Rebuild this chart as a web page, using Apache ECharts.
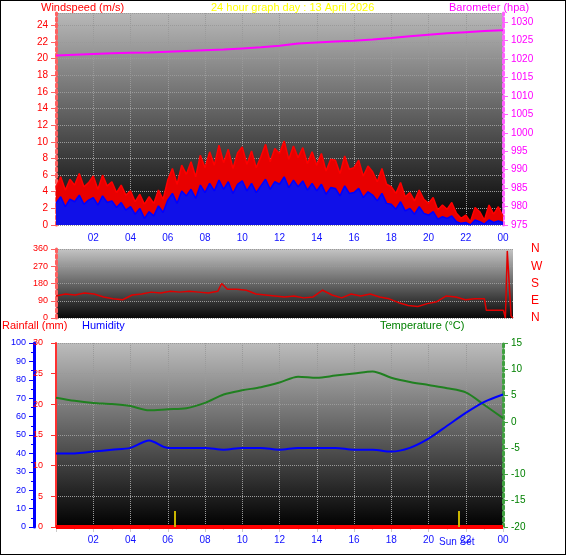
<!DOCTYPE html>
<html>
<head>
<meta charset="utf-8">
<script src="https://cdn.jsdelivr.net/npm/echarts@6/dist/echarts.min.js"></script>
<style>
  html, body { margin: 0; padding: 0; background: #fff; }
  #main { width: 566px; height: 555px; box-sizing: border-box; border: 1px solid #000; }
</style>
</head>
<body>
<div id="main"></div>
<script>
// data
var quarterHours = [];
for (var i = 0; i <= 96; i++) quarterHours.push(i / 4);

var windGust = [
  4.5,5.8,4.2,5.5, 4.8,6.2,4.6,5.1, 5.9,4.3,6.0,4.7, 5.2,3.9,4.8,3.6,
  4.1,2.8,3.7,2.5, 3.4,2.6,4.2,3.1, 5.4,6.8,4.9,7.2, 6.1,7.6,5.8,8.4,
  6.9,8.8,7.2,9.6, 7.5,9.1,6.8,8.7, 9.4,7.3,8.9,6.9, 8.2,9.7,7.6,9.2,
  8.6,10.1,7.9,9.5, 8.1,9.3,7.4,8.8, 7.2,8.6,6.5,7.9, 7.8,6.2,8.3,6.7,
  6.9,7.8,5.9,7.1, 6.4,5.2,6.8,4.9, 4.6,3.8,5.1,3.4, 3.9,2.9,4.2,3.1,
  2.6,3.3,1.8,2.4, 1.9,2.7,1.4,0.8, 1.2,0.4,2.1,1.6, 0.6,2.4,1.3,2.2, 1.0
];
var windAvg = [
  2.6,3.4,2.2,3.1, 2.8,3.6,2.5,3.0, 3.3,2.4,3.5,2.7, 2.9,2.1,2.7,1.8,
  2.2,1.3,2.0,0.8, 1.6,1.1,2.3,1.5, 3.0,3.8,2.6,4.1, 3.5,4.3,3.2,4.8,
  3.9,5.0,4.1,5.4, 4.3,5.2,3.8,4.9, 5.3,4.1,5.0,3.9, 4.7,5.5,4.3,5.2,
  4.9,5.8,4.5,5.4, 4.6,5.3,4.2,5.0, 4.1,4.9,3.7,4.5, 4.4,3.5,4.7,3.8,
  3.9,4.4,3.3,4.0, 3.6,2.9,3.8,2.6, 2.5,1.9,2.8,1.7, 2.0,1.3,2.2,1.4,
  1.2,1.6,0.7,1.0, 0.8,1.1,0.4,0.2, 0.3,0.0,0.6,0.4, 0.1,0.6,0.3,0.5, 0.3
];

var hours = [0,1,2,3,4,5,6,7,8,9,10,11,12,13,14,15,16,17,18,19,20,21,22,23,24];
var barometer = [1021,1021.2,1021.4,1021.6,1021.7,1021.8,1022,1022.2,1022.4,1022.6,1022.9,1023.2,
  1023.6,1024.2,1024.5,1024.8,1025,1025.3,1025.7,1026.2,1026.6,1027,1027.3,1027.6,1027.8];

var windDirTimes = [0,0.5,1,1.5,2,2.5,3,3.5,4,4.5,5,5.5,6,6.5,7,7.5,8,8.5,8.7,9,9.5,10,10.5,11,11.5,12,12.5,13,13.5,
  14,14.5,15,15.5,16,16.5,17,17.5,18,18.5,19,19.5,20,20.5,21,21.5,22,22.5,22.6,23.5,23.6,23.7,23.9,24];
var windDir = [115,125,120,130,125,110,100,95,120,125,135,130,140,135,140,135,130,140,180,150,150,145,125,120,115,
  110,115,105,110,145,120,105,125,115,125,110,100,80,65,60,75,85,115,110,95,100,100,40,40,0,350,10,0];

var humidity = [40,40,41,42,43,47,43,43,43,42,43,43,42,43,43,43,42,42,41,43,48,55,62,68,72];
var temperature = [4.6,4,3.6,3.4,3,2.2,2.4,2.6,3.6,5.2,6,6.6,7.5,8.6,8.4,8.8,9.2,9.6,8.4,7.6,7,6.4,5.6,3.2,0.7];
var rainfall = [0,0,0,0,0,0,0,0,0,0,0,0,0,0,0,0,0,0,0,0,0,0,0,0,0];

var sunRise = 6.4;
var sunSet = 21.6;

function zip(xs, ys) { return xs.map(function (x, i) { return [x, ys[i]]; }); }
function hourLabel(v) { if (v === 0) return ''; var h = v % 24; return (h < 10 ? '0' : '') + h; }
function bg(top, bottom) {
  return new echarts.graphic.LinearGradient(0, 0, 0, 1, [{ offset: 0, color: top }, { offset: 1, color: bottom }]);
}

var font = 'Liberation Sans';
var split = { show: true, lineStyle: { color: '#9a9a9a', type: 'dotted', width: 1 } };
var compassNames = { 0: 'N', 90: 'E', 180: 'S', 270: 'W', 360: 'N' };

var chart = echarts.init(document.getElementById('main'));
chart.setOption({
  animation: false,
  textStyle: { fontFamily: font },
  grid: [
    { left: 55, right: 62, top: 12, height: 212, show: true, borderWidth: 0, backgroundColor: bg('#b8b8b8', '#000') },
    { left: 55, right: 52, top: 248, height: 69, show: true, borderWidth: 0, backgroundColor: bg('#c4c4c4', '#080808') },
    { left: 55, right: 62, top: 342, height: 184, show: true, borderWidth: 0, backgroundColor: bg('#bcbcbc', '#000') }
  ],
  xAxis: [
    { gridIndex: 0, type: 'value', min: 0, max: 24, interval: 2,
      axisLine: { show: false }, axisTick: { show: false }, splitLine: split,
      axisLabel: { color: '#1010ff', fontSize: 10, formatter: hourLabel, margin: 8 } },
    { gridIndex: 1, type: 'value', min: 0, max: 24, interval: 2,
      axisLine: { show: false }, axisTick: { show: false }, axisLabel: { show: false }, splitLine: { show: false } },
    { gridIndex: 2, type: 'value', min: 0, max: 24, interval: 2,
      axisLine: { show: true, lineStyle: { color: '#ccc' } },
      axisTick: { show: true, lineStyle: { color: '#ccc' } },
      minorTick: { show: true, splitNumber: 2, lineStyle: { color: '#ccc' } },
      splitLine: split,
      axisLabel: { color: '#1010ff', fontSize: 10, formatter: hourLabel, margin: 8 } }
  ],
  yAxis: [
    { gridIndex: 0, type: 'value', position: 'left', min: 0, max: 25.5, interval: 2,
      axisLine: { show: true, lineStyle: { color: '#ff6060', type: 'dotted', width: 3 } },
      axisTick: { show: true, lineStyle: { color: '#ff6060' } },
      axisLabel: { color: '#ff0000', fontSize: 10, showMaxLabel: false }, splitLine: split },
    { gridIndex: 0, type: 'value', position: 'right', min: 975, max: 1032.5, interval: 5,
      axisLine: { show: true, lineStyle: { color: '#ff60ff', type: 'dotted', width: 3 } },
      axisTick: { show: true, lineStyle: { color: '#ff60ff' } },
      axisLabel: { color: '#ff00ff', fontSize: 10, showMaxLabel: false, formatter: function (v) { return String(v); } },
      splitLine: { show: false } },
    { gridIndex: 1, type: 'value', position: 'left', min: 0, max: 360, interval: 90,
      axisLine: { show: true, lineStyle: { color: '#ff6060', type: 'dotted', width: 3 } },
      axisTick: { show: true, lineStyle: { color: '#ff6060' } },
      axisLabel: { color: '#ff0000', fontSize: 9 }, splitLine: split },
    { gridIndex: 1, type: 'value', position: 'right', min: 0, max: 360, interval: 90, offset: 10,
      axisLine: { show: false }, axisTick: { show: false }, splitLine: { show: false },
      axisLabel: { color: '#ff0000', fontSize: 12, formatter: function (v) { return compassNames[v]; } } },
    { gridIndex: 2, type: 'value', position: 'left', min: 0, max: 30, interval: 5, offset: 5,
      axisLine: { show: true, lineStyle: { color: '#ff3030', width: 2 } },
      axisTick: { show: true, lineStyle: { color: '#ff3030' } },
      axisLabel: { color: '#ff0000', fontSize: 9 }, splitLine: split },
    { gridIndex: 2, type: 'value', position: 'left', min: 0, max: 100, interval: 10, offset: 22,
      axisLine: { show: true, lineStyle: { color: '#0000ff', width: 3 } },
      axisTick: { show: true, lineStyle: { color: '#0000ff' } },
      minorTick: { show: true, splitNumber: 2, lineStyle: { color: '#0000ff' } },
      axisLabel: { color: '#0000ff', fontSize: 9 }, splitLine: { show: false } },
    { gridIndex: 2, type: 'value', position: 'right', min: -20, max: 15, interval: 5,
      axisLine: { show: true, lineStyle: { color: '#40a040', type: 'dotted', width: 3 } },
      axisTick: { show: true, lineStyle: { color: '#40a040' } },
      axisLabel: { color: '#008000', fontSize: 10 }, splitLine: { show: false } }
  ],
  series: [
    { type: 'line', xAxisIndex: 0, yAxisIndex: 1, data: zip(hours, barometer), symbol: 'none',
      lineStyle: { color: '#ff00ff', width: 2 } },
    { type: 'line', xAxisIndex: 0, yAxisIndex: 0, data: zip(quarterHours, windGust), symbol: 'none',
      lineStyle: { color: '#ff0000', width: 1.5 }, areaStyle: { color: '#e80000', opacity: 1 } },
    { type: 'line', xAxisIndex: 0, yAxisIndex: 0, data: zip(quarterHours, windAvg), symbol: 'none',
      lineStyle: { color: '#0000ff', width: 1.5 }, areaStyle: { color: '#1010e8', opacity: 1 } },
    { type: 'line', xAxisIndex: 1, yAxisIndex: 2, data: zip(windDirTimes, windDir), symbol: 'none',
      lineStyle: { color: '#e00000', width: 1.5 } },
    { type: 'line', xAxisIndex: 2, yAxisIndex: 6, data: zip(hours, temperature), symbol: 'none', smooth: 0.3,
      lineStyle: { color: '#208020', width: 2 } },
    { type: 'line', xAxisIndex: 2, yAxisIndex: 5, data: zip(hours, humidity), symbol: 'none', smooth: 0.3,
      lineStyle: { color: '#0000ff', width: 2 } },
    { type: 'line', xAxisIndex: 2, yAxisIndex: 4, data: zip(hours, rainfall), symbol: 'none',
      lineStyle: { color: '#ff0000', width: 4 },
      markLine: { symbol: 'none', silent: true, label: { show: false },
        lineStyle: { color: '#c8b400', width: 2, type: 'solid' },
        data: [
          [{ coord: [sunRise, 0] }, { coord: [sunRise, 2.6] }],
          [{ coord: [sunSet, 0] }, { coord: [sunSet, 2.6] }]
        ] } }
  ],
  graphic: [
    { type: 'text', left: 40, top: 1, style: { text: 'Windspeed (m/s)', fill: '#ff0000', font: '11px Liberation Sans' } },
    { type: 'text', left: 210, top: 1, style: { text: '24 hour graph day : 13 April 2026', fill: '#ffff00', font: '11px Liberation Sans' } },
    { type: 'text', left: 448, top: 1, style: { text: 'Barometer (hpa)', fill: '#ff00ff', font: '11px Liberation Sans' } },
    { type: 'text', left: 1, top: 319, style: { text: 'Rainfall (mm)', fill: '#ff0000', font: '11px Liberation Sans' } },
    { type: 'text', left: 81, top: 319, style: { text: 'Humidity', fill: '#0000ff', font: '11px Liberation Sans' } },
    { type: 'text', left: 379, top: 319, style: { text: 'Temperature (°C)', fill: '#008000', font: '11px Liberation Sans' } },
    { type: 'text', left: 438, top: 536, style: { text: 'Sun Set', fill: '#1010ff', font: '10px Liberation Sans' } }
  ]
});
</script>
</body>
</html>
